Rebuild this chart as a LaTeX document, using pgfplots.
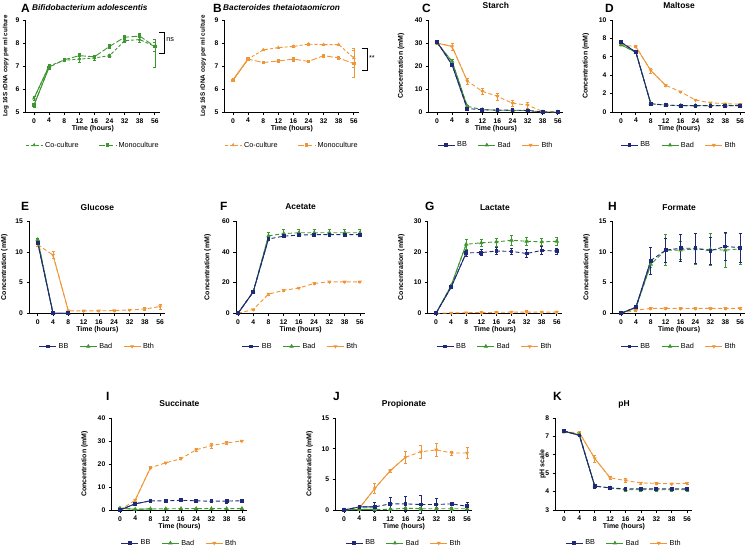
\documentclass[border=0pt]{standalone}
\usepackage{fontspec}
\setmainfont{Liberation Sans}
\usepackage{pgfplots}
\pgfplotsset{compat=1.18}
\usepackage{pgfplotstable}

\definecolor{bbc}{RGB}{31,41,120}
\definecolor{badc}{RGB}{62,150,48}
\definecolor{bthc}{RGB}{240,150,55}
\newcommand{\fs}[1]{\fontsize{#1}{#1}\selectfont}

\tikzset{
  dashpat/.style={dash pattern=on 4bp off 2.5bp},
  codash/.style={dash pattern=on 3bp off 2bp},
  modash/.style={dash pattern=on 6bp off 2.2bp},
}
\pgfplotsset{
  yl/.style={every axis y label/.style={at={([xshift=-#1]axis description cs:0,0.5)},
      anchor=center, rotate=90, font=\bfseries\fs{7}}},
  panel/.style={
    scale only axis, height=92bp,
    xmin=-0.55, xmax=8.35,
    axis x line*=bottom, axis y line*=left,
    axis line style={line width=0.8bp, black},
    tick align=outside, major tick length=2.8bp,
    tick style={line width=0.8bp, black},
    xtick={0,...,8}, xticklabels={0,4,8,12,16,24,32,38,56},
    tick label style={font=\bfseries\fs{6.8}},
    /pgf/number format/assume math mode=true,
    xlabel={Time (hours)},
    xlabel style={font=\bfseries\fs{7}, at={([yshift=-16.5bp]axis description cs:0.5,0)}, anchor=center},
    ylabel={Concentration (mM)}, yl=27bp,
    every axis title shift=0pt,
    title style={font=\bfseries\fs{8.5}, at={(0.5,1)}, anchor=base, yshift=11.3bp},
    legend style={at={(0.5,-0.36)}, anchor=center, draw=none, fill=none,
      legend columns=3, font=\fs{7.3}, inner sep=0pt,
      /tikz/every even column/.append style={column sep=9bp}},
    clip=false,
    every axis plot/.append style={line width=0.9bp},
    error bars/error bar style={line width=0.6bp, solid},
    error bars/error mark options={rotate=90, mark size=1.5bp, line width=0.6bp, solid},
  },
  bbm/.style={mark=square*, mark size=1.4bp},
  badm/.style={mark=triangle*, mark size=1.7bp},
  bthm/.style={mark=triangle*, mark size=1.4bp, mark options={rotate=180}},
}

% #1 colour, #2 table, #3 column, #4 mark style, #5 solid x domain (or empty)
\newcommand{\ser}[5]{%
  \addplot[#1, dashpat, no marks, forget plot] table[x=x,y=#3]{#2};
  \ifx\relax#5\relax\else
  \addplot[#1, solid, no marks, forget plot, restrict x to domain=#5] table[x=x,y=#3]{#2};
  \fi
  \addplot[#1, only marks, #4, forget plot, error bars/.cd, y dir=both, y explicit]
    table[x=x,y=#3,y error=#3e]{#2};
}
\newcommand{\trio}[2]{% #1 table, #2 Bth solid domain
  \ser{bthc}{#1}{bth}{bthm}{#2}
  \ser{badc}{#1}{bad}{badm}{0:2}
  \ser{bbc}{#1}{bb}{bbm}{0:2}
  \addlegendimage{bbc, solid, bbm}\addlegendentry{BB}
  \addlegendimage{badc, solid, badm}\addlegendentry{Bad}
  \addlegendimage{bthc, solid, bthm}\addlegendentry{Bth}
}
\newcommand{\duo}[2]{% #1 table, #2 colour
  \addplot[#2, codash, no marks, forget plot] table[x=x,y=co]{#1};
  \addplot[#2, solid, no marks, forget plot, restrict x to domain=0:1] table[x=x,y=co]{#1};
  \addplot[#2, only marks, mark=triangle*, mark size=1.3bp, forget plot,
    error bars/.cd, y dir=both, y explicit] table[x=x,y=co,y error=coe]{#1};
  \addplot[#2, modash, no marks, forget plot] table[x=x,y=mo]{#1};
  \addplot[#2, solid, no marks, forget plot, restrict x to domain=0:1] table[x=x,y=mo]{#1};
  \addplot[#2, only marks, mark=square*, mark size=1.2bp, forget plot,
    error bars/.cd, y dir=both, y explicit] table[x=x,y=mo,y error plus=mop,y error minus=mom]{#1};
  \addlegendimage{#2, codash, mark=triangle*, mark size=1.3bp, mark options={solid}}\addlegendentry{Co-culture}
  \addlegendimage{#2, modash, mark=square*, mark size=1.2bp, mark options={solid}}\addlegendentry{Monoculture}
}

\pgfplotstableread{
x co coe mo mop mom
0 5.60 0.10 5.30 0.10 0.10
1 7.00 0.08 6.95 0.08 0.08
2 7.25 0.06 7.27 0.06 0.06
3 7.30 0.12 7.45 0.10 0.10
4 7.35 0.10 7.40 0.08 0.08
5 7.45 0.05 7.85 0.10 0.10
6 8.10 0.08 8.25 0.10 0.10
7 8.15 0.10 8.30 0.12 0.12
8 7.85 0.20 7.85 0.30 0.90
}\tabA
\pgfplotstableread{
x co coe mo mop mom
0 6.40 0.06 6.38 0.06 0.06
1 7.30 0.03 7.30 0.03 0.03
2 7.70 0.03 7.15 0.05 0.05
3 7.80 0.03 7.22 0.05 0.05
4 7.85 0.03 7.30 0.08 0.08
5 7.95 0.03 7.20 0.04 0.04
6 7.93 0.03 7.45 0.05 0.05
7 7.93 0.03 7.35 0.08 0.08
8 7.35 0.40 7.10 0.60 0.60
}\tabB
\pgfplotstableread{
x bb bbe bad bade bth bthe
0 30.5 0.8 30.0 0.5 30.0 0.5
1 20.5 0.6 22.0 0.8 28.5 1.5
2 1.5 0.3 2.5 0.3 13.5 1.3
3 1.0 0.2 1.0 0.2 9.0 1.5
4 0.8 0.2 0.8 0.2 6.8 1.5
5 0.8 0.2 0.7 0.2 3.8 1.5
6 0.7 0.2 0.6 0.2 3.0 1.2
7 0.0 0.1 0.0 0.1 0.2 0.1
8 0.0 0.1 0.0 0.1 0.0 0.1
}\tabC
\pgfplotstableread{
x bb bbe bad bade bth bthe
0 7.6 0.1 7.3 0.1 7.3 0.1
1 6.5 0.1 6.5 0.1 7.1 0.1
2 0.9 0.05 0.9 0.05 4.5 0.25
3 0.75 0.05 0.75 0.05 2.9 0.15
4 0.7 0.05 0.7 0.05 2.2 0.08
5 0.7 0.05 0.7 0.05 1.3 0.08
6 0.7 0.05 0.7 0.05 1.0 0.05
7 0.7 0.05 0.7 0.05 0.9 0.05
8 0.7 0.05 0.7 0.05 0.85 0.05
}\tabD
\pgfplotstableread{
x bb bbe bad bade bth bthe
0 11.5 0.3 12.0 0.3 11.2 0.3
1 0 0.05 0 0.05 9.5 0.6
2 0 0.05 0 0.05 0.4 0.1
3 nan nan nan nan 0.4 0.05
4 nan nan nan nan 0.4 0.05
5 nan nan nan nan 0.45 0.05
6 nan nan nan nan 0.55 0.1
7 nan nan nan nan 0.7 0.2
8 nan nan nan nan 1.1 0.4
}\tabE
\pgfplotstableread{
x bb bbe bad bade bth bthe
0 0 0.2 0 0.2 0 0.2
1 14 0.5 14 0.5 2.5 0.3
2 48.5 1 50.5 2 12.5 0.5
3 50.3 0.8 52 2.5 15 0.5
4 51 0.8 52.5 2.5 16.5 0.5
5 51.3 0.8 52.5 2.5 19.5 0.5
6 51.3 0.8 52.5 2.5 20.5 0.5
7 51.3 0.8 52.5 2.5 20.5 0.5
8 51.3 0.8 52.5 2.5 20.5 0.5
}\tabF
\pgfplotstableread{
x bb bbe bad bade bth bthe
0 0 0.1 0 0.1 0 0.1
1 8.5 0.5 9 0.5 0.1 0.1
2 19.7 1 22.5 1.5 0.2 0.2
3 19.8 1 23 1.2 0.2 0.3
4 20.3 1.2 23.3 1.3 0.3 0.3
5 20.2 1 23.8 1.6 0.4 0.4
6 19.5 1.3 23.5 1.2 0.4 0.5
7 20.5 1.2 23.3 1 0.4 0.4
8 20.3 1 23.5 1.2 0.4 0.4
}\tabG
\pgfplotstableread{
x bb bbe bad bade bth bthe
0 0 0.1 0 0.1 0 0.05
1 1.0 0.2 0.9 0.2 0.5 0.1
2 8.6 2.2 8.0 0.5 0.8 0.1
3 10.3 2.0 10.3 2.5 0.8 0.1
4 10.6 2.2 10.3 1.5 0.8 0.1
5 10.6 2.5 10.5 2.5 0.8 0.1
6 10.2 2.2 10.4 2.6 0.8 0.1
7 10.9 2.3 10.3 2.8 0.8 0.1
8 10.7 2.4 10.5 2.5 0.8 0.1
}\tabH
\pgfplotstableread{
x bb bbe bad bade bth bthe
0 0 0.1 0.8 0.2 0 0.1
1 2.7 0.3 0.3 0.1 4.3 0.3
2 4.0 0.2 0.5 0.1 18.4 0.4
3 4.0 0.2 0.5 0.1 20.5 0.4
4 4.2 0.2 0.6 0.1 22.3 0.4
5 4.0 0.2 0.6 0.1 26.2 0.8
6 3.8 0.2 0.6 0.1 28.0 1.0
7 3.9 0.8 0.6 0.1 29.2 0.8
8 4.0 0.3 0.6 0.1 30.0 0.3
}\tabI
\pgfplotstableread{
x bb bbe bad bade bth bthe
0 0 0.1 0 0.1 0 0.1
1 0.5 0.1 0.1 0.1 0.3 0.1
2 0.5 0.7 0.1 0.1 3.5 0.8
3 1.0 1.0 0.1 0.1 6.4 0.3
4 1.0 1.2 0.3 0.2 8.6 1.0
5 0.9 1.5 0.2 0.2 9.5 1.0
6 0.9 1.0 0.2 0.2 9.8 1.0
7 1.0 0.3 0.2 0.2 9.3 0.3
8 0.6 0.6 0.2 0.2 9.3 0.9
}\tabJ
\pgfplotstableread{
x bb bbe bad bade bth bthe
0 7.3 0.03 7.25 0.03 7.25 0.03
1 7.05 0.05 7.1 0.05 7.2 0.1
2 4.3 0.1 4.3 0.1 5.8 0.2
3 4.2 0.08 4.2 0.08 4.75 0.1
4 4.15 0.1 4.1 0.1 4.6 0.1
5 4.15 0.08 4.1 0.08 4.47 0.05
6 4.15 0.08 4.1 0.08 4.45 0.05
7 4.15 0.1 4.1 0.1 4.42 0.05
8 4.15 0.1 4.1 0.1 4.45 0.05
}\tabK

\begin{document}
\begin{tikzpicture}
\useasboundingbox (0,0) rectangle (750bp,-548bp);

% ---- row 1
\begin{axis}[panel, at={(25.7bp,-112bp)}, anchor=south west, width=134.4bp,
  ymin=5, ymax=9, ytick={5,6,7,8,9}, yl=20bp,
  ylabel={Log 16S rDNA copy per ml culture}, ylabel style={font=\bfseries\fs{6.3}},
  legend columns=2, legend style={/tikz/every even column/.append style={column sep=18bp}}]
  \duo{\tabA}{badc}
  \draw[line width=0.6bp] (axis cs:8.28,8.48) -- (axis cs:8.6,8.48) -- (axis cs:8.6,7.55) -- (axis cs:8.28,7.55);
  \node[anchor=west, font=\fs{7.3}, inner sep=0pt] at (axis cs:8.75,8.13) {ns};
\end{axis}
\begin{axis}[panel, at={(224.7bp,-112bp)}, anchor=south west, width=134.4bp,
  ymin=5, ymax=9, ytick={5,6,7,8,9}, yl=21.5bp,
  ylabel={Log 16S rDNA copy per ml culture}, ylabel style={font=\bfseries\fs{6.3}},
  legend columns=2, legend style={/tikz/every even column/.append style={column sep=18bp}}]
  \duo{\tabB}{bthc}
  \draw[line width=0.6bp] (axis cs:8.54,7.77) -- (axis cs:8.87,7.77) -- (axis cs:8.87,6.83) -- (axis cs:8.54,6.83);
  \node[anchor=west, font=\fs{7.3}, inner sep=0pt] at (axis cs:9.0,7.35) {**};
\end{axis}
\begin{axis}[panel, at={(428.7bp,-112bp)}, anchor=south west, width=134.4bp,
  ymin=0, ymax=40, ytick={0,10,...,40}, title={Starch}, yl=27.7bp]
  \trio{\tabC}{0:2}
\end{axis}
\begin{axis}[panel, at={(612.8bp,-112bp)}, anchor=south west, width=132.6bp,
  ymin=0, ymax=10, ytick={0,2,...,10}, title={Maltose}, yl=27bp]
  \trio{\tabD}{1:3}
\end{axis}

% ---- row 2
\begin{axis}[panel, at={(29.3bp,-313.3bp)}, anchor=south west, width=136.2bp,
  ymin=0, ymax=15, ytick={0,5,10,15}, title={Glucose}, yl=25bp]
  \trio{\tabE}{1:2}
\end{axis}
\begin{axis}[panel, at={(236bp,-313.3bp)}, anchor=south west, width=129.3bp, xmin=-0.13,
  ymin=0, ymax=60, ytick={0,20,40,60}, title={Acetate}, yl=28.5bp]
  \trio{\tabF}{}
\end{axis}
\begin{axis}[panel, at={(427.7bp,-313.3bp)}, anchor=south west, width=134.4bp,
  ymin=0, ymax=30, ytick={0,10,20,30}, title={Lactate}, yl=26.5bp]
  \trio{\tabG}{}
\end{axis}
\begin{axis}[panel, at={(612.8bp,-313.3bp)}, anchor=south west, width=132.6bp,
  ymin=0, ymax=15, ytick={0,5,10,15}, title={Formate}, yl=26.3bp]
  \trio{\tabH}{}
\end{axis}

% ---- row 3
\begin{axis}[panel, at={(111.6bp,-510bp)}, anchor=south west, width=135.7bp,
  ymin=0, ymax=40, ytick={0,10,...,40}, title={Succinate}, yl=27bp]
  \trio{\tabI}{1:2}
\end{axis}
\begin{axis}[panel, at={(335.5bp,-510bp)}, anchor=south west, width=137bp,
  ymin=0, ymax=15, ytick={0,5,10,15}, title={Propionate}, yl=26bp]
  \trio{\tabJ}{1:4}
\end{axis}
\begin{axis}[panel, at={(555.5bp,-510bp)}, anchor=south west, width=137bp,
  ymin=3, ymax=8, ytick={3,4,...,8}, title={pH}, ylabel={pH scale}, yl=13bp]
  \trio{\tabK}{1:3}
\end{axis}

% ---- panel letters and species titles
\tikzset{plab/.style={anchor=base west, font=\bfseries\fs{12}, inner sep=0pt}}
\node[plab] at (21bp,-12bp) {A};
\node[plab] at (213bp,-12bp) {B};
\node[plab] at (422bp,-12bp) {C};
\node[plab] at (605bp,-12bp) {D};
\node[plab] at (21bp,-210.7bp) {E};
\node[plab] at (220bp,-210.7bp) {F};
\node[plab] at (425bp,-210.7bp) {G};
\node[plab] at (608bp,-210.7bp) {H};
\node[plab] at (106bp,-400bp) {I};
\node[plab] at (333bp,-400bp) {J};
\node[plab] at (553bp,-400bp) {K};
\node[anchor=base west, inner sep=0pt, font=\bfseries\itshape\fs{8.3}] at (32bp,-10bp) {Bifidobacterium adolescentis};
\node[anchor=base west, inner sep=0pt, font=\bfseries\itshape\fs{8.3}] at (223bp,-10bp) {Bacteroides thetaiotaomicron};
\end{tikzpicture}
\end{document}
